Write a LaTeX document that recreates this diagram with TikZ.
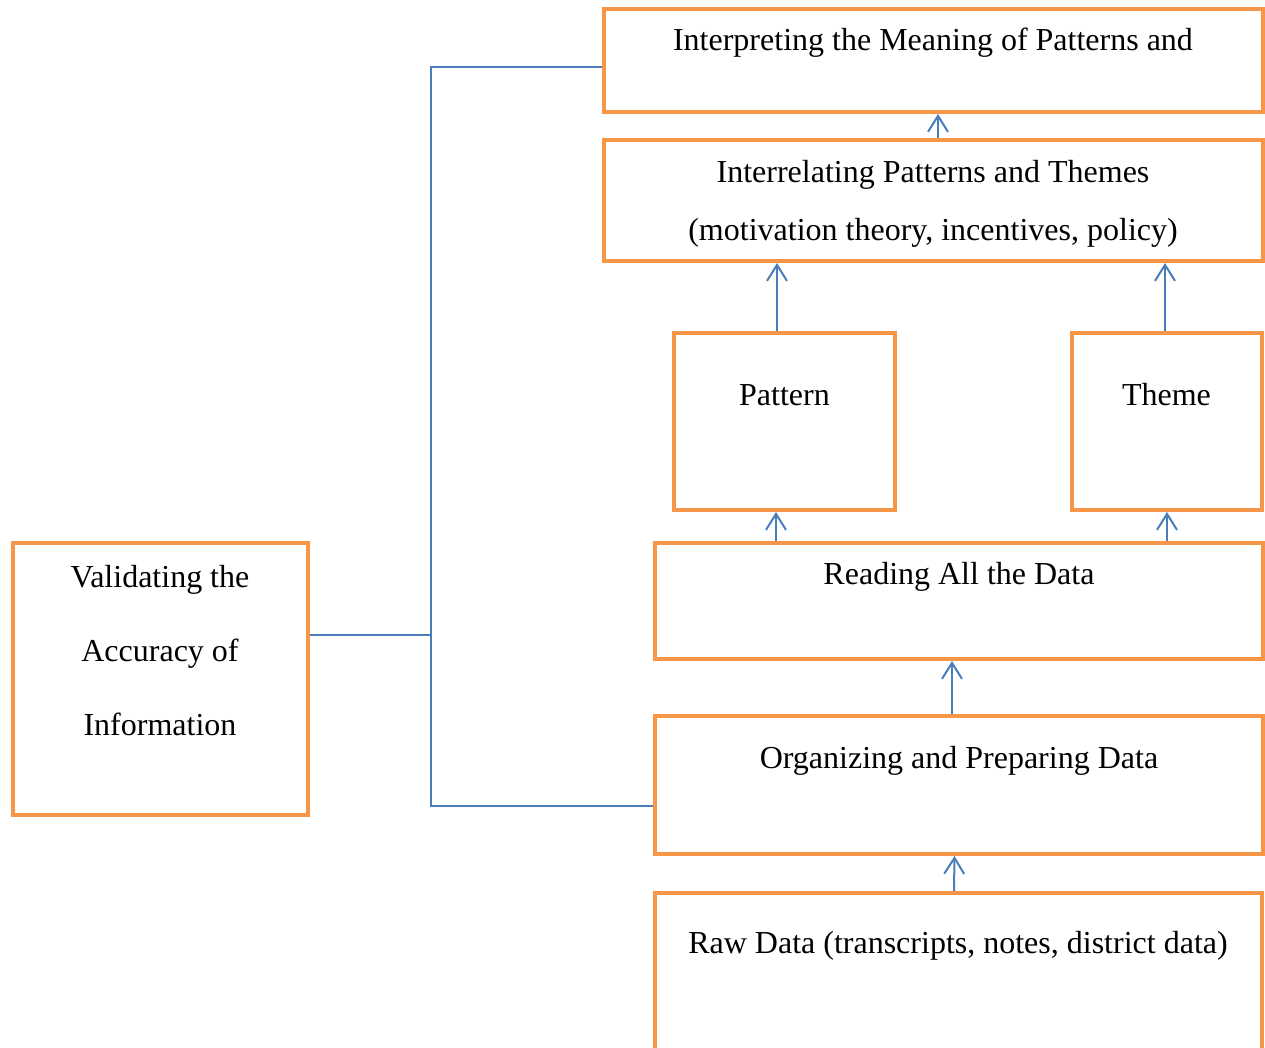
\documentclass[tikz,border=0pt]{standalone}
\usepackage{fontspec}
\setmainfont{Liberation Serif}
\usetikzlibrary{positioning,arrows.meta,calc}
\definecolor{cBox}{HTML}{F79646}
\definecolor{cLink}{HTML}{4A7EBB}
\tikzset{
  obox/.style={draw=cBox,line width=2pt,inner sep=0pt},
  txt/.style={font=\fontsize{16}{29}\selectfont,align=center,inner sep=0pt},
  arr/.style={-{Straight Barb[length=8pt,width=10pt]},draw=cLink,line width=1pt},
  lnk/.style={draw=cLink,line width=1pt}}

\begin{document}
\begin{tikzpicture}[x=0.5pt,y=-0.5pt]
\useasboundingbox (0,0) rectangle (1265,1048);
\node[obox, minimum width=329.5pt, minimum height=51.5pt] (interp) at (933.5,60.5) {};
\node[obox, minimum width=329.5pt, minimum height=60.5pt] (interrel) at (933.5,200.5) {};
\node[obox, minimum width=110.5pt, minimum height=88.5pt] (pattern) at (784.5,421.5) {};
\node[obox, minimum width=95pt, minimum height=88.5pt] (theme) at (1167,421.5) {};
\node[obox, minimum width=304pt, minimum height=58pt] (reading) at (959,601) {};
\node[obox, minimum width=304pt, minimum height=69pt] (organ) at (959,785) {};
\node[obox, minimum width=303.5pt, minimum height=86pt] (raw) at (958.5,979) {};
\node[obox, minimum width=147.5pt, minimum height=136pt] (valid) at (160.5,679) {};
% texts, set to the top of each box
\node[txt] (interp-t) at (933,43) {Interpreting the Meaning of Patterns and};
\node[txt] (interrel-t) at (933,204) {Interrelating Patterns and Themes\\(motivation theory, incentives, policy)};
\node[txt] (pattern-t) at (784.5,395) {Pattern};
\node[txt] (theme-t) at (1166.5,395) {Theme};
\node[txt] (reading-t) at (959,577) {Reading All the Data};
\node[txt] (organ-t) at (959,761) {Organizing and Preparing Data};
\node[txt] (raw-t) at (958,946) {Raw Data (transcripts, notes, district data)};
\node[txt, font=\fontsize{16}{37}\selectfont] (valid-t) at (160,651) {Validating the\\Accuracy of\\Information};
% upward arrows
\draw[arr] ([xshift=2.25pt]interrel.north) -- ([xshift=2.25pt]interp.south);
\draw[arr] ([xshift=-3.75pt]pattern.north) -- ([xshift=-3.75pt]pattern.north |- interrel.south);
\draw[arr] ([xshift=-1pt]theme.north) -- ([xshift=-1pt]theme.north |- interrel.south);
\draw[arr] ([xshift=-4.25pt]pattern.south |- reading.north) -- ([xshift=-4.25pt]pattern.south);
\draw[arr] (theme.south |- reading.north) -- (theme.south);
\draw[arr] ([xshift=-3.5pt]organ.north) -- ([xshift=-3.5pt]reading.south);
\draw[arr] ([xshift=-2.25pt]raw.north) -- ([xshift=-2.25pt]organ.south);
% validation bracket
\coordinate (bustop) at (431,67);
\coordinate (busbot) at (431,806);
\coordinate (busmid) at (431,635);
\draw[lnk] (interp.west |- bustop) -- (bustop) -- (busbot) -- (organ.west |- busbot);
\draw[lnk] (valid.east |- busmid) -- (busmid);
\end{tikzpicture}
\end{document}
